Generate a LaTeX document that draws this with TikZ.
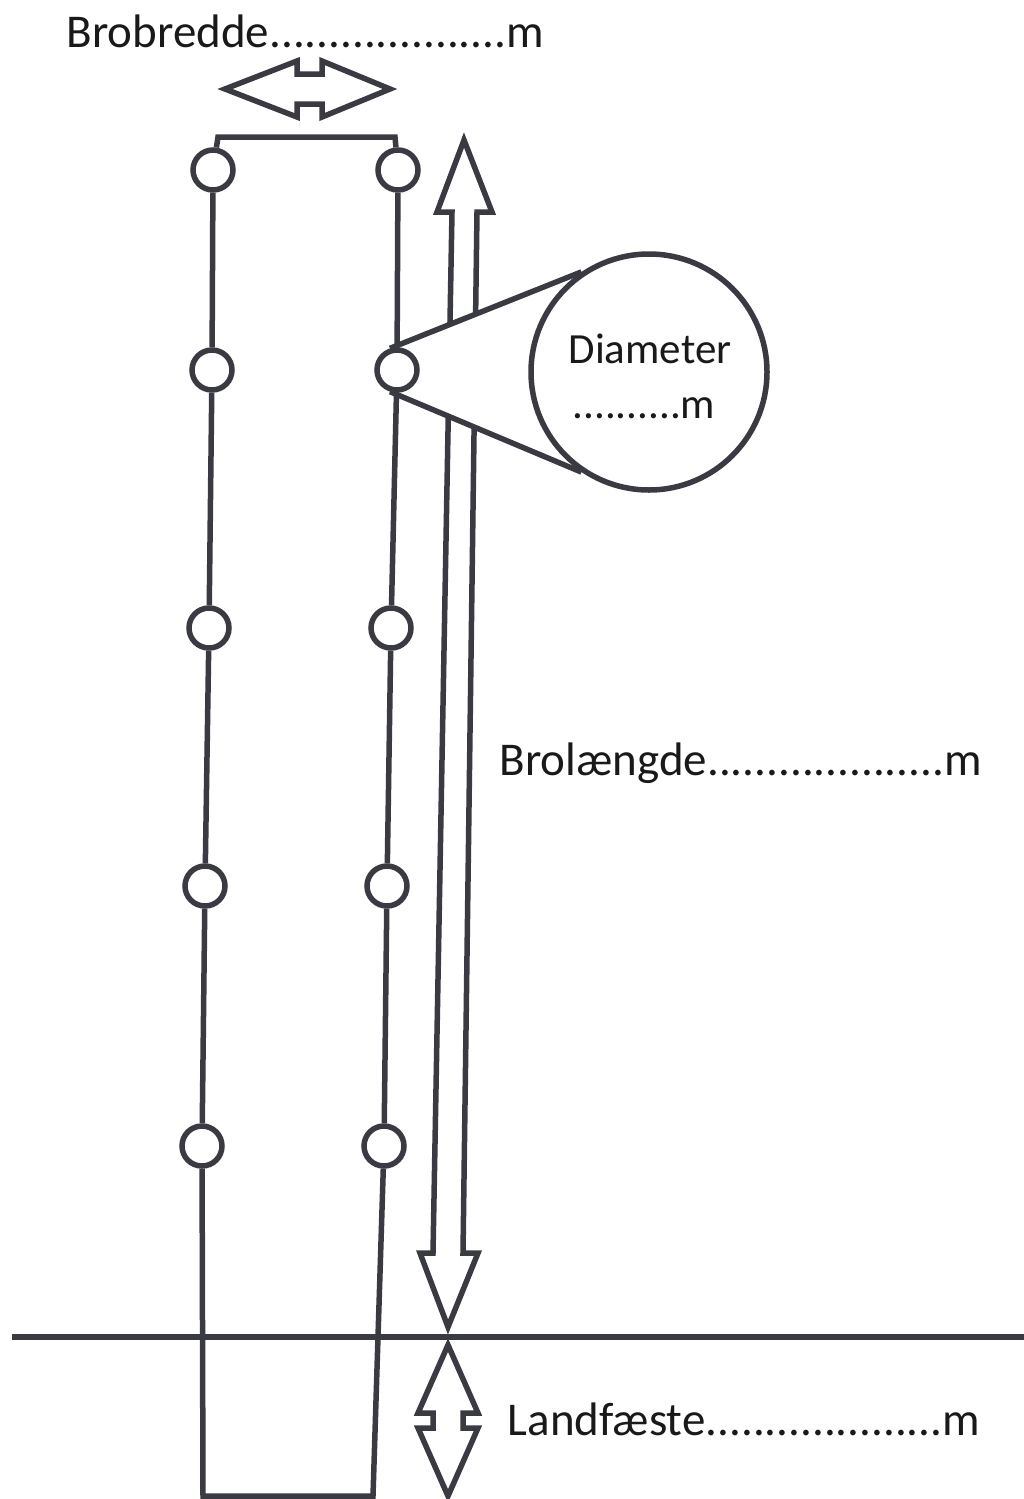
\documentclass[tikz,border=0pt]{standalone}
\usepackage{fontspec}
\setmainfont{Carlito}
\usepackage{xcolor}
\usetikzlibrary{backgrounds}

\definecolor{strek}{RGB}{58,58,66}
\tikzset{
    pille/.style={circle, draw=strek, fill=white, line width=5.5pt, minimum size=40pt, inner sep=0pt},
    pil/.style={draw=strek, fill=white, line width=5.5pt, line join=miter},
    tekst/.style={font=\fontsize{47}{56}\selectfont, anchor=base west, inner sep=0pt, text=black!90},
    lupetekst/.style={font=\fontsize{43}{52}\selectfont, anchor=base, inner sep=0pt, text=black!90}
}

\begin{document}
\begin{tikzpicture}[x=1pt, y=-1pt, line width=5.5pt, strek]
    \useasboundingbox (0,0) rectangle (1024,1499);

    \coordinate (TL) at (218,137);
    \coordinate (TR) at (395,137);
    \coordinate (BL) at (203,1496);
    \coordinate (BR) at (373,1496);
    \coordinate (G1) at (12,1337);
    \coordinate (G2) at (1024,1337);

    \node (L1) at (213,170) [pille]{};
    \node (L2) at (212,370) [pille]{};
    \node (L3) at (209,628) [pille]{};
    \node (L4) at (205,886) [pille]{};
    \node (L5) at (202,1146) [pille]{};

    \node (R1) at (398,170) [pille]{};
    \node (R2) at (397,370) [pille]{};
    \node (R3) at (391,628) [pille]{};
    \node (R4) at (387,886) [pille]{};
    \node (R5) at (384,1146) [pille]{};

    \node (lupe) at (649,372) [pille, minimum size=236pt]{};

    \draw[line join=miter] (L1) -- (TL) -- (TR) -- (R1);
    \draw (L1) -- (L2) -- (L3) -- (L4) -- (L5);
    \draw (R1) -- (R2) -- (R3) -- (R4) -- (R5);
    \draw[line join=miter] (L5) -- (BL) -- (BR) -- (R5);
    \draw (G1) -- (G2);

    \begin{scope}[on background layer]
        \draw[pil] (464,140) -- (492,212) -- (477,212) -- (463,1253) -- (478,1253) -- (448,1327) -- (420,1253) -- (433,1253) -- (452,212) -- (437,212) -- cycle;
        \fill[white] (R2.108) -- (lupe.124) -- (lupe.236) -- (R2.252) -- cycle;
    \end{scope}

    \draw (R2.108) -- (lupe.124);
    \draw (R2.252) -- (lupe.236);

    \draw[pil] (225,89) -- (297,61) -- (297,74) -- (322,74) -- (322,61) -- (390,89) -- (322,117) -- (322,104) -- (297,104) -- (297,117) -- cycle;

    \draw[pil] (448,1345) -- (478,1413) -- (463,1413) -- (463,1428) -- (478,1428) -- (448,1496) -- (418,1428) -- (433,1428) -- (433,1413) -- (418,1413) -- cycle;

    \node (bredde) at (64,47) [tekst]{Brobredde....................m};
    \node (laengde) at (497,775) [tekst]{Brolængde....................m};
    \node (faeste) at (505,1435) [tekst]{Landfæste....................m};

    \node (diameter) at (650,363) [lupetekst]{Diameter};
    \node (maal) at (644,418) [lupetekst]{..........m};
\end{tikzpicture}
\end{document}
